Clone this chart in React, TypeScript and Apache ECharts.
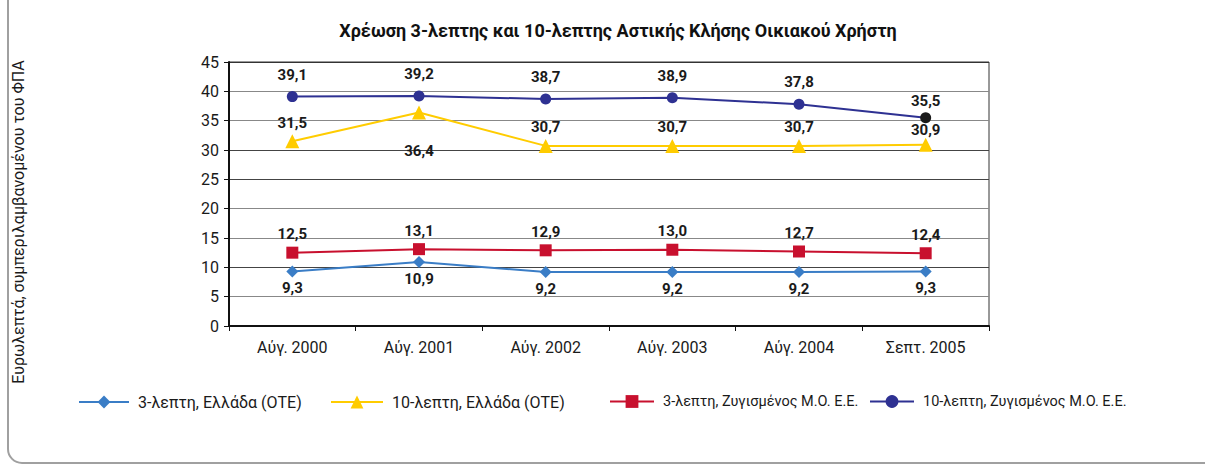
import React, { useEffect, useRef } from "react";
import * as echarts from "echarts";

const categories = ["Αύγ. 2000", "Αύγ. 2001", "Αύγ. 2002", "Αύγ. 2003", "Αύγ. 2004", "Σεπτ. 2005"];
const seriesNames = [
  "3-λεπτη, Ελλάδα (ΟΤΕ)",
  "10-λεπτη, Ελλάδα (ΟΤΕ)",
  "3-λεπτη, Ζυγισμένος Μ.Ο. Ε.Ε.",
  "10-λεπτη, Ζυγισμένος Μ.Ο. Ε.Ε.",
];
const greece3 = [9.3, 10.9, 9.2, 9.2, 9.2, 9.3];
const greece10 = [31.5, 36.4, 30.7, 30.7, 30.7, 30.9];
const eu3 = [12.5, 13.1, 12.9, 13.0, 12.7, 12.4];
const eu10 = [39.1, 39.2, 38.7, 38.9, 37.8, 35.5];
const title = "Χρέωση 3-λεπτης και 10-λεπτης Αστικής Κλήσης Οικιακού Χρήστη";
const yAxisTitle = "Ευρωλεπτά, συμπεριλαμβανομένου του ΦΠΑ";

const FONT = "Roboto, 'DejaVu Sans', sans-serif";
const fmt = (v: number) => v.toFixed(1).replace(".", ",");

export default function App() {
  const ref = useRef<HTMLDivElement>(null);
  useEffect(() => {
    if (!ref.current) return;
    const chart = echarts.init(ref.current, undefined, { renderer: "svg" });
    const labelBase = {
      show: true,
      fontFamily: FONT,
      fontWeight: "bold" as const,
      fontSize: 15,
      color: "#1a1a1a",
      formatter: (p: any) => fmt(p.value),
    };
    const legendCommon = {
      top: 389,
      itemHeight: 16,
      itemGap: 10,
    };
    const lt = (size: number) => ({ fontFamily: FONT, fontSize: size, color: "#1a1a1a", padding: [0, 0, 0, 4] });
    chart.setOption({
      animation: false,
      backgroundColor: "#fff",
      title: {
        text: title,
        left: 613,
        textAlign: "center",
        top: 16,
        textStyle: { fontFamily: FONT, fontWeight: "bold", fontSize: 18, color: "#111" },
      },
      grid: {
        left: 229,
        right: 216,
        top: 62,
        bottom: 140,
        show: true,
        borderColor: "#333",
        borderWidth: 1,
      },
      legend: [
        { ...legendCommon, left: 73, itemWidth: 50, textStyle: lt(16), data: [seriesNames[0]] },
        { ...legendCommon, left: 325, itemWidth: 52, textStyle: lt(16), data: [seriesNames[1]] },
        { ...legendCommon, left: 604, itemWidth: 44, textStyle: lt(14.5), data: [seriesNames[2]] },
        { ...legendCommon, left: 864, itemWidth: 44, textStyle: lt(14.5), data: [seriesNames[3]] },
      ],
      xAxis: {
        type: "category",
        data: categories,
        boundaryGap: true,
        axisLine: { lineStyle: { color: "#111", width: 2 } },
        axisTick: { show: true, length: 5, lineStyle: { color: "#111" } },
        axisLabel: { fontFamily: FONT, fontSize: 16, color: "#1a1a1a", margin: 13 },
      },
      yAxis: {
        type: "value",
        min: 0,
        max: 45,
        interval: 5,
        axisLine: { show: true, lineStyle: { color: "#111", width: 2 } },
        axisTick: { show: true, length: 5, lineStyle: { color: "#111" } },
        axisLabel: { fontFamily: FONT, fontSize: 16, color: "#1a1a1a", margin: 10 },
        splitLine: { lineStyle: { color: ["#555", "#888", "#444", "#888", "#888", "#444", "#444", "#888", "#888", "#333"], width: 1 } },
      },
      graphic: [
        {
          type: "rect",
          shape: { x: 8, y: -30, width: 1400, height: 493, r: 14 },
          style: { fill: "none", stroke: "#a0a0a0", lineWidth: 2 },
          silent: true,
        },
        {
          type: "text",
          x: 18,
          y: 222,
          rotation: Math.PI / 2,
          style: {
            text: yAxisTitle,
            fontFamily: FONT,
            fontSize: 16,
            fill: "#1a1a1a",
            textAlign: "center",
            textVerticalAlign: "middle",
          },
        },
      ],
      series: [
        {
          name: seriesNames[0],
          type: "line",
          data: greece3,
          symbol: "diamond",
          symbolSize: 12,
          color: "#3a7dc6",
          lineStyle: { width: 2, color: "#3a7dc6" },
          label: { ...labelBase, position: "bottom", distance: 3 },
        },
        {
          name: seriesNames[1],
          type: "line",
          data: greece10.map((v, i) =>
            i === 1
              ? { value: v, label: { position: "bottom", distance: 24 } }
              : i === greece10.length - 1
              ? { value: v, label: { distance: 0 } }
              : v
          ),
          symbol: "triangle",
          symbolSize: 14,
          color: "#ffcc00",
          lineStyle: { width: 2, color: "#ffcc00" },
          label: { ...labelBase, position: "top", distance: 4 },
        },
        {
          name: seriesNames[2],
          type: "line",
          data: eu3,
          symbol: "rect",
          symbolSize: 12,
          color: "#c8102e",
          lineStyle: { width: 2, color: "#c8102e" },
          label: { ...labelBase, position: "top", distance: 5 },
        },
        {
          name: seriesNames[3],
          type: "line",
          data: eu10.map((v, i) =>
            i === eu10.length - 1 ? { value: v, itemStyle: { color: "#1a1a1a" }, label: { distance: 4 } } : v
          ),
          symbol: "circle",
          symbolSize: 11,
          color: "#2e3192",
          lineStyle: { width: 2, color: "#2e3192" },
          label: { ...labelBase, position: "top", distance: 9 },
        },
      ],
    });
    return () => chart.dispose();
  }, []);
  return (
    <div
      ref={ref}
      style={{ position: "fixed", left: 0, top: 0, width: 1205, height: 466 }}
    />
  );
}
